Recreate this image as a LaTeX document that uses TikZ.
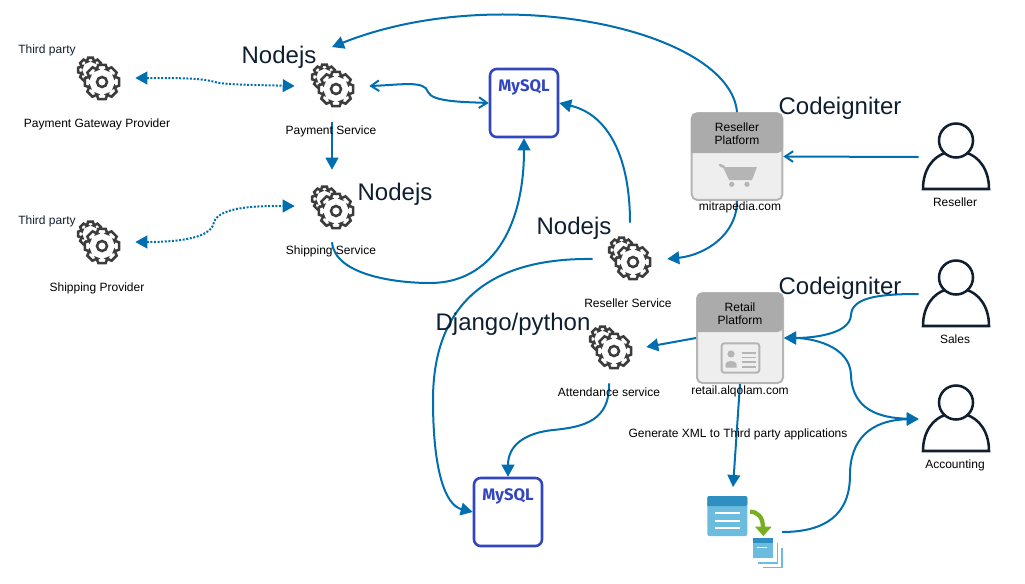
\documentclass[tikz,border=0pt]{standalone}
\usepackage{fontspec}
\setmainfont{Liberation Sans}
\newfontfamily\dbfont{Fira Sans}
\usetikzlibrary{arrows.meta,calc}
\definecolor{linkblue}{RGB}{0,110,175}
\definecolor{gearink}{RGB}{60,60,60}
\definecolor{dbblue}{RGB}{50,70,190}
\definecolor{inkdark}{RGB}{15,31,48}
\definecolor{cardhead}{RGB}{171,171,171}
\definecolor{cardbody}{RGB}{238,238,238}
\definecolor{cardicon}{RGB}{181,181,181}
\definecolor{filelight}{RGB}{107,188,223}
\definecolor{filedark}{RGB}{46,143,192}
\definecolor{filegreen}{RGB}{118,176,32}
\tikzset{
  link/.style={draw=linkblue,line width=1.5pt,-{Triangle[length=9pt,width=9.5pt]}},
  linkboth/.style={link,{Triangle[length=9pt,width=9.5pt]}-{Triangle[length=9pt,width=9.5pt]}},
  linkopen/.style={draw=linkblue,line width=1.5pt,-{Straight Barb[length=6pt,width=8pt]}},
  linkdots/.style={linkboth,line width=1.5pt,dash pattern=on 1.5pt off 1.2pt},
  gearbox/.style={minimum width=55.5pt,minimum height=54pt,inner sep=0pt},
  personbox/.style={minimum width=55.5pt,minimum height=30pt,inner sep=0pt},
  dbbox/.style={draw=dbblue,line width=1.9pt,rounded corners=5pt,minimum width=51pt,minimum height=51pt,fill=white},
  cardbox/.style={draw=cardicon,line width=1.5pt,rounded corners=4pt,fill=cardbody,inner sep=0pt},
  small/.style={font=\fontsize{9}{10}\selectfont,align=center},
  big/.style={font=\fontsize{18}{20}\selectfont,text=inkdark},
  gearwheel/.pic={
    \draw[gearink,line width=1.9pt,fill=white] (-11.5,12) ++(-24:9)
      \foreach \a in {0,45,...,315} { -- ($(-11.5,12)+(\a-24:9)$) -- ($(-11.5,12)+(\a-11:12.5)$) -- ($(-11.5,12)+(\a+11:12.5)$) -- ($(-11.5,12)+(\a+24:9)$) } -- cycle;
    \draw[gearink,line width=1.9pt,fill=white] (-24:13.5)
      \foreach \a in {0,45,...,315} { -- (\a-24:13.5) -- (\a-12:17.5) -- (\a+12:17.5) -- (\a+24:13.5) } -- cycle;
    \draw[gearink,line width=1.9pt,fill=white] (0,0) circle (5);
  },
  personicon/.pic={
    \draw[inkdark,line width=1.9pt,fill=white] (-33,-48.5) -- (33,-48.5) .. controls (33,-28) and (22,-16) .. (11,-12.5) -- (-11,-12.5) .. controls (-22,-16) and (-33,-28) .. (-33,-48.5) -- cycle;
    \draw[inkdark,line width=1.9pt,fill=white] (0,0) circle (17);
  },
}
\begin{document}
\begin{tikzpicture}[x=0.75pt,y=0.75pt,yscale=-1,xscale=1]
\useasboundingbox (0,0) rectangle (1025,583);
%Gears
\node[gearbox] (gatewaygear) at (98,78) {};
\node[gearbox] (paymentgear) at (332,86) {};
\node[gearbox] (shippinggear) at (332,206) {};
\node[gearbox] (providergear) at (98,242) {};
\node[gearbox] (resellergear) at (630,259) {};
\node[gearbox] (attendancegear) at (609,347) {};
\pic at (102,82) {gearwheel};
\pic at (336,89) {gearwheel};
\pic at (336,211) {gearwheel};
\pic at (102,246) {gearwheel};
\pic at (633,262) {gearwheel};
\pic at (614,351) {gearwheel};
%Databases
\node[dbbox] (paymentdb) at (524,103) {};
\node[dbbox] (attendancedb) at (508,512) {};
\node[font=\dbfont\bfseries\fontsize{12.5}{14}\selectfont,text=dbblue] (paymentdbtext) at (524,87) {MySQL};
\node[font=\dbfont\bfseries\fontsize{12.5}{14}\selectfont,text=dbblue] (attendancedbtext) at (508,496) {MySQL};
%Platform cards
\node[cardbox,minimum width=68pt,minimum height=65pt] (resellercard) at (737,156.5) {};
\node[cardbox,minimum width=64.5pt,minimum height=67.5pt] (retailcard) at (740,338) {};
\fill[cardhead,rounded corners=4pt] (691,153) -- (691,113) -- (783,113) -- (783,153) [sharp corners] -- cycle;
\fill[cardhead,rounded corners=4pt] (697,332) -- (697,293) -- (783,293) -- (783,332) [sharp corners] -- cycle;
\node[small] (resellercardtext) at (737,133.5) {Reseller\\Platform};
\node[small] (retailcardtext) at (740,313.5) {Retail\\Platform};
%Cart
\draw[cardicon,line width=2pt,line cap=round] (720,165) -- (724,167);
\fill[cardicon] (723,167) -- (757,167) -- (752,180) -- (729,180) -- cycle;
\fill[cardicon] (731.7,184.3) circle (2.6) (747,184.3) circle (2.6);
%Id card
\draw[cardicon,line width=1.5pt,rounded corners=2pt] (721.7,343.3) rectangle (759.3,372.7);
\fill[cardicon] (731,354) circle (3.6);
\fill[cardicon] (725.5,367.5) -- (725.5,364) .. controls (726,360) and (736,360) .. (736.5,364) -- (736.5,367.5) -- cycle;
\foreach \y in {352.7,357.3,362,366.7}
  \draw[cardicon,line width=1.2pt] (741.7,\y) -- (755.7,\y);
%Persons
\pic at (956,140.5) {personicon};
\pic at (956,277.5) {personicon};
\pic at (956,402.5) {personicon};
\node[personbox] (resellerperson) at (956,157) {};
\node[personbox] (salesperson) at (956,294) {};
\node[personbox] (accountingperson) at (956,419) {};
%Files
\fill[filelight,rounded corners=1.5pt] (707.3,496) rectangle (747.3,536);
\fill[filedark,rounded corners=1.5pt] (707.3,506) -- (707.3,496) -- (747.3,496) -- (747.3,506) [sharp corners] -- cycle;
\foreach \y in {513,520.7,528.3}
  \draw[white,line width=1.5pt] (715,\y) -- (740,\y);
\draw[filegreen,line width=3.2pt] (750,511.7) .. controls (758,512) and (763,517) .. (763,528);
\fill[filegreen] (755,526.7) -- (771.7,526.7) -- (763.3,536) -- cycle;
\draw[filelight,line width=1.2pt] (777.3,543) -- (777.3,563) -- (757.7,563);
\draw[filelight,line width=1.2pt] (781.7,548) -- (781.7,567.5) -- (762.7,567.5);
\fill[filelight] (752.7,538.3) rectangle (772.7,558.3);
\fill[filedark] (752.7,538.3) rectangle (772.7,543.3);
\draw[white,line width=1.2pt] (757.3,547.3) -- (767.3,547.3);
\coordinate (filesend) at (782,532);
\coordinate (filestop) at (733,487);
%Connectors
\draw[link] (resellercard.north) .. controls (730,30) and (500,-20) .. (332,47);
\draw[link] (resellercard.south) .. controls (737,235) and (705,255) .. (resellergear.east);
\draw[linkopen] (resellerperson.west) -- (resellercard.east);
\draw[linkopen,{Straight Barb[length=6pt,width=8pt]}-{Straight Barb[length=6pt,width=8pt]}] (paymentgear.east) .. controls (400,85) and (425,80) .. (428,92) .. controls (432,102) and (465,102) .. (paymentdb.west);
\draw[link] (paymentgear.south) -- (shippinggear.north);
\draw[link] (shippinggear.south) .. controls (335,275) and (395,283) .. (430,283) .. controls (490,283) and (524,230) .. (paymentdb.south);
\draw[link] (resellergear.north) .. controls (630,160) and (610,115) .. (paymentdb.east);
\draw[link] (resellergear.west) .. controls (520,258) and (433,280) .. (433,400) .. controls (433,470) and (445,505) .. (attendancedb.west);
\draw[link] (retailcard.west) -- (attendancegear.east);
\draw[link] (attendancegear.south) .. controls (610,420) and (585,427) .. (553,430) .. controls (525,433) and (508,445) .. (attendancedb.north);
\draw[link] (salesperson.west) .. controls (880,294) and (852,297) .. (851,315) .. controls (850,335) and (810,338) .. (retailcard.east);
\draw[linkboth] (accountingperson.west) .. controls (880,418) and (852,410) .. (851,375) .. controls (850,345) and (810,338) .. (retailcard.east);
\draw[link] (retailcard.south) -- (filestop);
\draw[link] (filesend) .. controls (825,532) and (850,515) .. (850,475) .. controls (850,440) and (870,420) .. (accountingperson.west);
\draw[linkdots] (gatewaygear.east) .. controls (180,78) and (200,78) .. (215,82) .. controls (225,85) and (260,85) .. (paymentgear.west);
\draw[linkdots] (providergear.east) .. controls (170,242) and (212,240) .. (214,222) .. controls (220,206) and (260,206) .. (shippinggear.west);
%Text Nodes
\node[small,text=inkdark] (gatewayparty) at (47,50.5) {Third party};
\node[small,text=inkdark] (providerparty) at (47,221.5) {Third party};
\node[small] (gatewaytext) at (97,124.5) {Payment Gateway Provider};
\node[small] (paymenttext) at (331,131.5) {Payment Service};
\node[small] (shippingtext) at (331,251) {Shipping Service};
\node[small] (providertext) at (97,288.5) {Shipping Provider};
\node[small] (resellertext) at (628,303.5) {Reseller Service};
\node[small] (attendancetext) at (609,392.5) {Attendance service};
\node[small] (mitrapediatext) at (740,207.5) {mitrapedia.com};
\node[small] (alqolamtext) at (740,391.5) {retail.alqolam.com};
\node[small] (xmltext) at (738,434.5) {Generate XML to Third party applications};
\node[small] (resellerpersontext) at (955,202.5) {Reseller};
\node[small] (salespersontext) at (955,339.5) {Sales};
\node[small] (accountingpersontext) at (955,465.5) {Accounting};
\node[big] (paymentstack) at (279,57) {Nodejs};
\node[big] (shippingstack) at (395,194) {Nodejs};
\node[big] (resellerstack) at (574,228) {Nodejs};
\node[big] (attendancestack) at (513,324) {Django/python};
\node[big] (resellerplatformstack) at (840,108.5) {Codeigniter};
\node[big] (retailplatformstack) at (840,288.5) {Codeigniter};
\end{tikzpicture}
\end{document}
